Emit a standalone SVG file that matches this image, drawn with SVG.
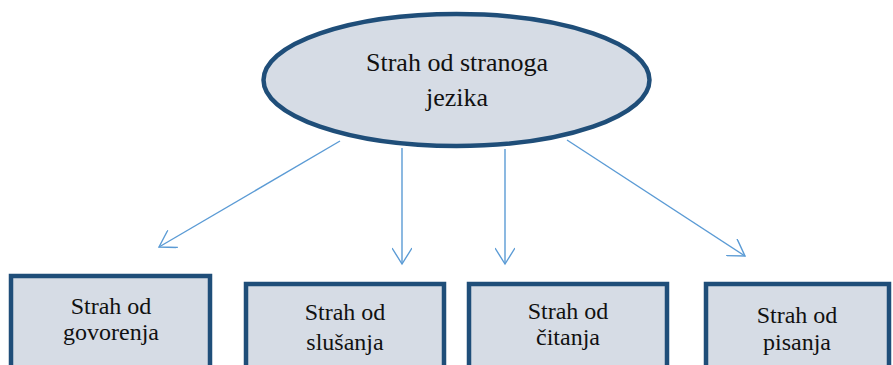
<svg xmlns="http://www.w3.org/2000/svg" width="893" height="365" viewBox="0 0 893 365">
<style>
.node{fill:#d6dce5;stroke:#1f4e79;stroke-width:4.5}
text{font-family:'Liberation Serif','Times New Roman','DejaVu Serif',serif;fill:#111;text-anchor:middle}
.big{font-size:26px}
.sm{font-size:24px}
.conn{stroke:#5b9bd5;stroke-width:1.4;fill:none}
</style>
<defs>
<marker id="arr" markerUnits="userSpaceOnUse" viewBox="0 0 20 20" refX="18" refY="10" markerWidth="20" markerHeight="20" orient="auto">
<path d="M2,0 L18,10 L2,20" fill="none" stroke="#5b9bd5" stroke-width="1.4"/>
</marker>
</defs>
<rect width="893" height="365" fill="#fff"/>
<g id="connectors">
<line class="conn" x1="340" y1="141" x2="159" y2="247" marker-end="url(#arr)"/>
<line class="conn" x1="402" y1="148" x2="402" y2="264" marker-end="url(#arr)"/>
<line class="conn" x1="505" y1="149" x2="505" y2="264" marker-end="url(#arr)"/>
<line class="conn" x1="567" y1="140" x2="745" y2="256" marker-end="url(#arr)"/>
</g>
<g id="root">
<ellipse class="node" cx="456.5" cy="80" rx="193" ry="66"/>
<text class="big" x="457" y="71">Strah od stranoga</text>
<text class="big" x="457" y="106">jezika</text>
</g>
<g id="govorenja">
<rect class="node" x="11" y="276" width="199" height="100"/>
<text class="sm" x="111" y="314">Strah od</text>
<text class="sm" x="111" y="340">govorenja</text>
</g>
<g id="slusanja">
<rect class="node" x="246" y="284" width="198" height="100"/>
<text class="sm" x="345" y="320">Strah od</text>
<text class="sm" x="345" y="350">slušanja</text>
</g>
<g id="citanja">
<rect class="node" x="469" y="284" width="198" height="100"/>
<text class="sm" x="568" y="319">Strah od</text>
<text class="sm" x="568" y="345">čitanja</text>
</g>
<g id="pisanja">
<rect class="node" x="706" y="284" width="183" height="100"/>
<text class="sm" x="797" y="323">Strah od</text>
<text class="sm" x="797" y="350">pisanja</text>
</g>
</svg>
